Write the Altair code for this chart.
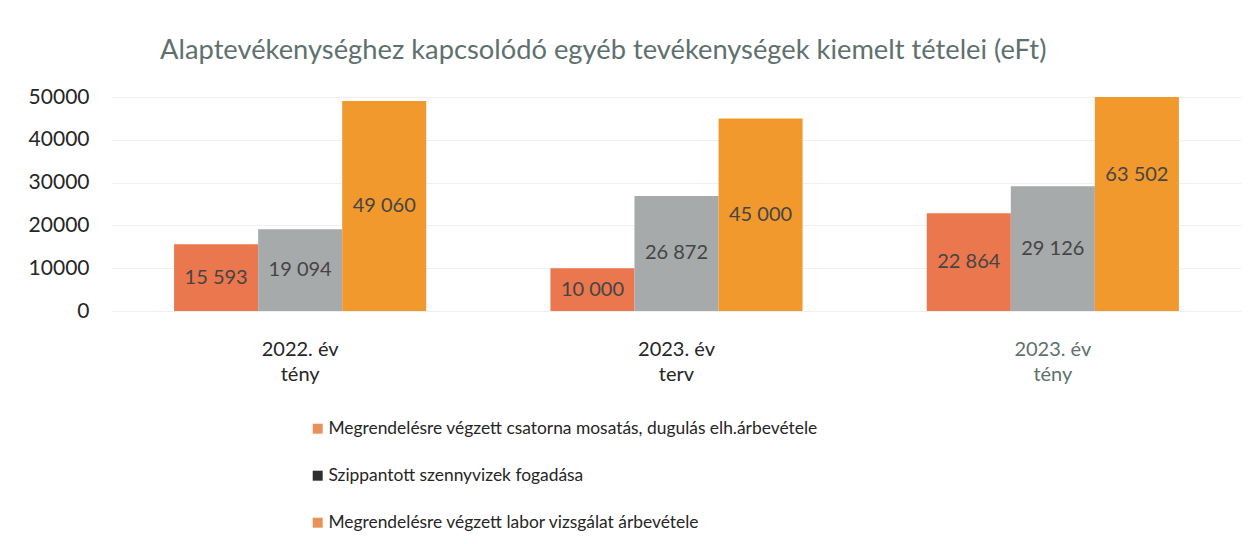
import altair as alt
import pandas as pd

categories = ["2022. év\ntény", "2023. év\nterv", "2023. év\ntény"]
series = [
    "Megrendelésre végzett csatorna mosatás, dugulás elh.árbevétele",
    "Szippantott szennyvizek fogadása",
    "Megrendelésre végzett labor vizsgálat árbevétele",
]
values_s1 = [15593, 10000, 22864]
values_s2 = [19094, 26872, 29126]
values_s3 = [49060, 45000, 63502]
y_ticks = [0, 10000, 20000, 30000, 40000, 50000]

bar_colors = ["#EA774D", "#A6AAAA", "#F2992E"]
legend_colors = ["#E8915A", "#2E2E2E", "#E8915A"]

rows = []
for s, vals in zip(series, [values_s1, values_s2, values_s3]):
    for c, v in zip(categories, vals):
        rows.append({"cat": c, "series": s, "value": v})
df = pd.DataFrame(rows)

FONT = "Lato"

x_enc = alt.X(
    "cat:N",
    sort=categories,
    title=None,
    scale=alt.Scale(paddingInner=0.33, paddingOuter=0.165),
    axis=alt.Axis(
        labelExpr="split(datum.label, '\\n')",
        labelAngle=0,
        labelFontSize=20,
        labelFont=FONT,
        labelLineHeight=25,
        labelPadding=28,
        labelColor={
            "condition": {"test": "datum.index == 1", "value": "#5F716E"},
            "value": "#262626",
        },
        ticks=False,
        domain=False,
        grid=False,
    ),
)
y_scale = alt.Scale(domain=[0, 50000], clamp=True, nice=False)

bars = alt.Chart(df).mark_bar(clip=True).encode(
    x=x_enc,
    xOffset=alt.XOffset("series:N", sort=series, scale=alt.Scale(paddingInner=0, paddingOuter=0)),
    y=alt.Y(
        "value:Q",
        scale=y_scale,
        title=None,
        axis=alt.Axis(
            values=y_ticks,
            format="d",
            labelFontSize=21,
            labelFont=FONT,
            labelColor="#262626",
            labelPadding=23,
            ticks=False,
            domain=False,
            gridColor="#EFEFEF",
        ),
    ),
    color=alt.Color("series:N", sort=series, scale=alt.Scale(domain=series, range=bar_colors), legend=None),
)

labels = alt.Chart(df).transform_calculate(
    half="datum.value / 2",
    lbl="replace(format(datum.value, ','), ',', ' ')",
).mark_text(fontSize=20, font=FONT, color="#454545").encode(
    x=alt.X("cat:N", sort=categories),
    xOffset=alt.XOffset("series:N", sort=series),
    y=alt.Y("half:Q", scale=y_scale),
    text="lbl:N",
)

legend_layer = alt.Chart(df).mark_square(opacity=0).encode(
    x=alt.value(0),
    y=alt.value(0),
    color=alt.Color(
        "series:N",
        sort=series,
        scale=alt.Scale(domain=series, range=legend_colors),
        legend=alt.Legend(
            title=None,
            orient="none",
            legendX=197,
            legendY=323,
            direction="vertical",
            symbolType="square",
            symbolSize=100,
            symbolOpacity=1,
            symbolStrokeWidth=0,
            labelFontSize=17.4,
            labelFont=FONT,
            labelColor="#262626",
            labelLimit=800,
            labelOffset=2,
            rowPadding=28,
        ),
    ),
)

chart = (
    alt.layer(bars, labels, legend_layer)
    .resolve_scale(color="independent")
    .properties(
        width=1129,
        height=214,
        padding={"left": 20, "top": 28, "right": 5, "bottom": 5},
        title=alt.TitleParams(
            "Alaptevékenységhez kapcsolódó egyéb tevékenységek kiemelt tételei (eFt)",
            anchor="start",
            dx=132,
            fontSize=27.3,
            font=FONT,
            fontWeight="normal",
            color="#5F716E",
            offset=22,
        ),
    )
    .configure_view(stroke=None)
)

chart.save("out.html", embed_options={"renderer": "svg", "actions": False})
